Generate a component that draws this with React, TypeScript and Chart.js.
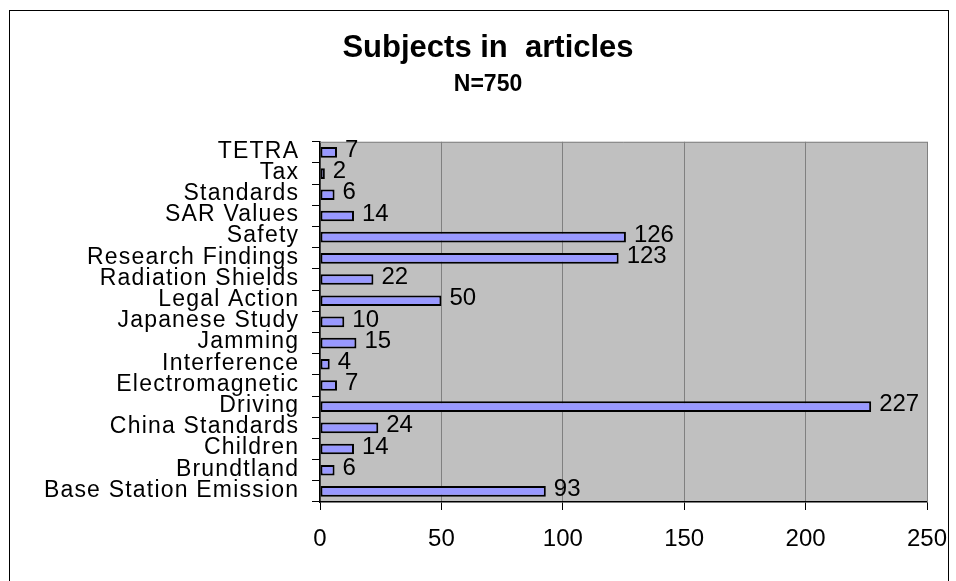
import React, { useEffect, useRef } from "react";
import { Chart, registerables } from "chart.js";

Chart.register(...registerables);

const categories = [
  "TETRA",
  "Tax",
  "Standards",
  "SAR Values",
  "Safety",
  "Research Findings",
  "Radiation Shields",
  "Legal Action",
  "Japanese Study",
  "Jamming",
  "Interference",
  "Electromagnetic",
  "Driving",
  "China Standards",
  "Children",
  "Brundtland",
  "Base Station Emission",
];
const counts = [7, 2, 6, 14, 126, 123, 22, 50, 10, 15, 4, 7, 227, 24, 14, 6, 93];
const xTicks = [0, 50, 100, 150, 200, 250];
const titleText = "Subjects in  articles";
const subtitleText = "N=750";

const FONT = "'Liberation Sans', Arial, Helvetica, sans-serif";

const plotBg = {
  id: "plotBg",
  beforeDraw(chart: any) {
    const { ctx, chartArea: a } = chart;
    ctx.save();
    ctx.fillStyle = "#C0C0C0";
    ctx.fillRect(a.left, a.top, a.right - a.left, a.bottom - a.top);
    ctx.restore();
  },
  afterDatasetsDraw(chart: any) {
    const { ctx, chartArea: a } = chart;
    ctx.save();
    ctx.strokeStyle = "#808080";
    ctx.lineWidth = 1;
    ctx.beginPath();
    ctx.moveTo(a.left, a.top + 0.5);
    ctx.lineTo(a.right + 0.5, a.top + 0.5);
    ctx.lineTo(a.right + 0.5, a.bottom);
    ctx.stroke();
    ctx.restore();
  },
};

const valueLabels = {
  id: "valueLabels",
  afterDatasetsDraw(chart: any) {
    const { ctx } = chart;
    const meta = chart.getDatasetMeta(0);
    ctx.save();
    ctx.fillStyle = "#000";
    ctx.font = `24px ${FONT}`;
    ctx.textAlign = "left";
    ctx.textBaseline = "middle";
    meta.data.forEach((bar: any, i: number) => {
      ctx.fillText(String(counts[i]), bar.x + 8, bar.y - 2);
    });
    ctx.restore();
  },
};

const categoryLabels = {
  id: "categoryLabels",
  afterDraw(chart: any) {
    const { ctx } = chart;
    const ys = chart.scales.y;
    const spacing = 1.2;
    ctx.save();
    ctx.fillStyle = "#000";
    ctx.font = `23px ${FONT}`;
    try {
      (ctx as any).letterSpacing = `${spacing}px`;
    } catch (e) {}
    ctx.textAlign = "right";
    ctx.textBaseline = "middle";
    const xRight = chart.chartArea.left - 8 - 14 + spacing;
    categories.forEach((label, i) => {
      ctx.fillText(label, xRight, ys.getPixelForValue(i) - 1);
    });
    try {
      (ctx as any).letterSpacing = "0px";
    } catch (e) {}
    ctx.restore();
  },
};

export default function App() {
  const ref = useRef<HTMLCanvasElement>(null);
  useEffect(() => {
    if (!ref.current) return;
    const chart = new Chart(ref.current, {
      type: "bar",
      data: {
        labels: categories,
        datasets: [
          {
            data: counts,
            backgroundColor: "#9999FF",
            borderColor: "#000000",
            borderWidth: 2,
            borderSkipped: false,
            barPercentage: 0.5,
            categoryPercentage: 1,
          },
        ],
      },
      options: {
        indexAxis: "y",
        responsive: false,
        animation: false,
        layout: { padding: { left: 39, right: 21, top: 0, bottom: 0 } },
        plugins: {
          legend: { display: false },
          tooltip: { enabled: false },
          title: {
            display: true,
            text: titleText,
            color: "#000",
            font: { family: FONT, size: 31, weight: "bold", lineHeight: 1.2 },
            padding: { top: 19, bottom: 2 },
          },
          subtitle: {
            display: true,
            text: subtitleText,
            color: "#000",
            font: { family: FONT, size: 23, weight: "bold", lineHeight: 1.2 },
            padding: { top: 2, bottom: 43 },
          },
        },
        scales: {
          x: {
            min: 0,
            max: 250,
            afterBuildTicks: (scale: any) => {
              scale.ticks = xTicks.map((v) => ({ value: v }));
            },
            afterFit: (scale: any) => {
              scale.height = 107;
              scale.paddingLeft = 0;
              scale.paddingRight = 0;
            },
            ticks: {
              color: "#000",
              font: { family: FONT, size: 24 },
              padding: 15,
              maxRotation: 0,
            },
            grid: {
              color: "#808080",
              tickColor: "#000",
              tickLength: 8,
              lineWidth: 1,
            },
            border: { color: "#000", width: 1.5 },
          },
          y: {
            afterFit: (scale: any) => {
              scale.width = 271;
            },
            ticks: {
              display: false,
              autoSkip: false,
            },
            grid: {
              drawOnChartArea: false,
              tickColor: "#000",
              tickLength: 8,
              offset: true,
            },
            border: { color: "#000", width: 1.5 },
          },
        },
      },
      plugins: [plotBg, valueLabels, categoryLabels],
    });
    return () => chart.destroy();
  }, []);

  return (
    <div
      style={{
        position: "fixed",
        left: 9,
        top: 10,
        width: 940,
        height: 600,
        border: "1px solid #000",
        boxSizing: "border-box",
        background: "#fff",
      }}
    >
      <canvas ref={ref} width={938} height={598} style={{ display: "block" }} />
    </div>
  );
}
